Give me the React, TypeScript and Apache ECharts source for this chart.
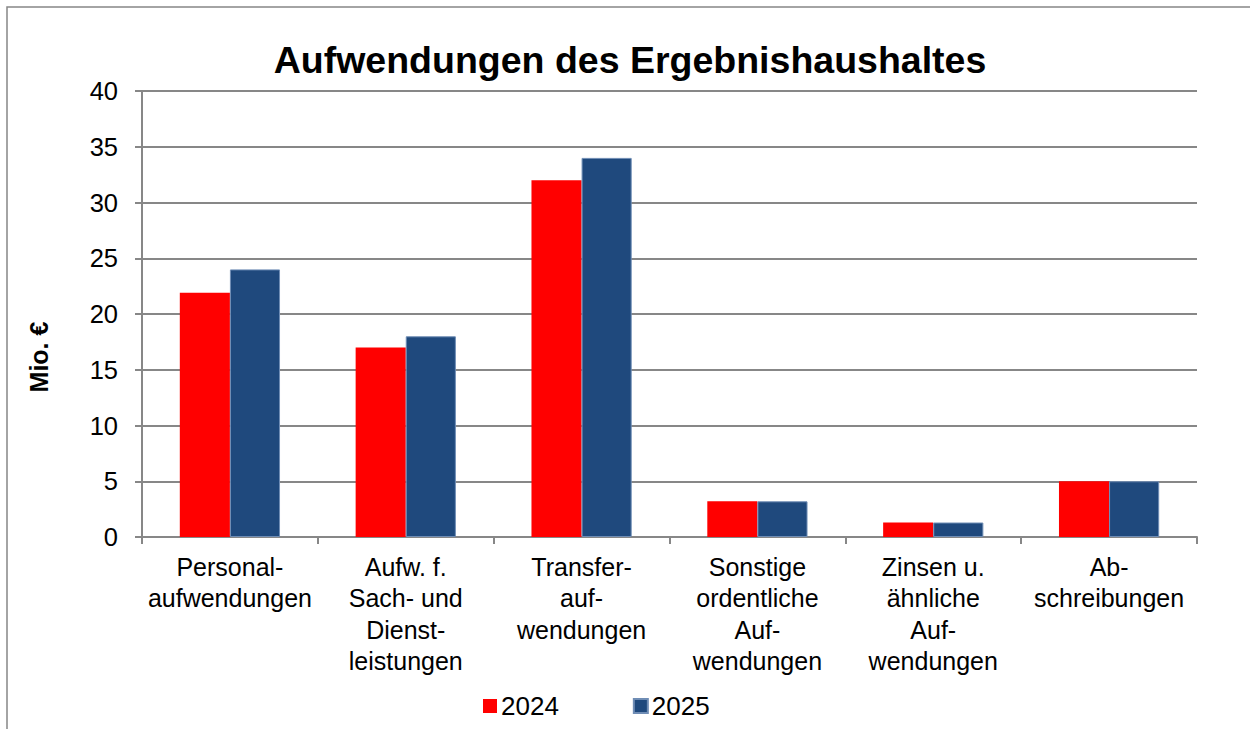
import React, { useEffect, useRef } from "react";
import * as echarts from "echarts";

const categories = [
  "Personal-\naufwendungen",
  "Aufw. f.\nSach- und\nDienst-\nleistungen",
  "Transfer-\nauf-\nwendungen",
  "Sonstige\nordentliche\nAuf-\nwendungen",
  "Zinsen u.\nähnliche\nAuf-\nwendungen",
  "Ab-\nschreibungen",
];
const values2024 = [21.9, 17.0, 32.0, 3.2, 1.3, 5.0];
const values2025 = [24.0, 18.0, 34.0, 3.2, 1.3, 5.0];
const seriesNames = ["2024", "2025"];
const titleText = "Aufwendungen des Ergebnishaushaltes";
const yAxisTitle = "Mio. €";

const FONT = "'Liberation Sans', Arial, sans-serif";
const GRAY = "#878787";

export default function App() {
  const ref = useRef<HTMLDivElement>(null);
  useEffect(() => {
    if (!ref.current) return;
    const chart = echarts.init(ref.current, null, { renderer: "svg" });
    chart.setOption({
      animation: false,
      backgroundColor: "#ffffff",
      textStyle: { fontFamily: FONT },
      title: {
        text: titleText,
        left: 625,
        textAlign: "center",
        top: 36,
        textStyle: { fontSize: 37.5, fontWeight: "bold", color: "#000", fontFamily: FONT },
      },
      graphic: [
        {
          type: "rect",
          shape: { x: 7, y: 7, width: 1300, height: 800 },
          style: { fill: "none", stroke: GRAY, lineWidth: 1.5 },
          silent: true,
          z: 100,
        },
        {
          type: "text",
          x: 39,
          y: 357,
          rotation: Math.PI / 2,
          style: {
            text: yAxisTitle,
            fontSize: 25,
            fontWeight: "bold",
            fontFamily: FONT,
            fill: "#000",
            align: "center",
            verticalAlign: "middle",
          },
        },
      ],
      legend: {
        left: 478,
        top: 688,
        itemWidth: 14,
        itemHeight: 14,
        itemGap: 74,
        icon: "rect",
        textStyle: { fontSize: 26, color: "#000", fontFamily: FONT, padding: [0, 0, 0, -1] },
        data: seriesNames,
      },
      grid: { left: 142, right: 53, top: 91, bottom: 192, containLabel: false },
      xAxis: {
        type: "category",
        data: categories,
        axisLine: { lineStyle: { color: GRAY, width: 2 } },
        axisTick: { show: true, length: 7, lineStyle: { color: GRAY, width: 2 } },
        axisLabel: {
          interval: 0,
          fontSize: 25,
          lineHeight: 31.5,
          margin: 14,
          color: "#000",
          fontFamily: FONT,
          align: "center",
        },
      },
      yAxis: {
        type: "value",
        min: 0,
        max: 40,
        interval: 5,
        axisLine: { show: true, lineStyle: { color: GRAY, width: 2 } },
        axisTick: { show: true, length: 7, lineStyle: { color: GRAY, width: 2 } },
        axisLabel: { fontSize: 25.5, margin: 24, color: "#000", fontFamily: FONT },
        splitLine: { lineStyle: { color: GRAY, width: 2 } },
      },
      series: [
        {
          name: seriesNames[0],
          type: "bar",
          data: values2024,
          barGap: "0%",
          barCategoryGap: "43%",
          itemStyle: { color: "#FF0000" },
        },
        {
          name: seriesNames[1],
          type: "bar",
          data: values2025,
          barGap: "0%",
          barCategoryGap: "43%",
          itemStyle: { color: "#1F497D", borderColor: "#6F8DB5", borderWidth: 1 },
        },
      ],
    });
    return () => chart.dispose();
  }, []);
  return (
    <div
      ref={ref}
      style={{ position: "fixed", left: 0, top: 0, width: 1250, height: 729 }}
    />
  );
}
